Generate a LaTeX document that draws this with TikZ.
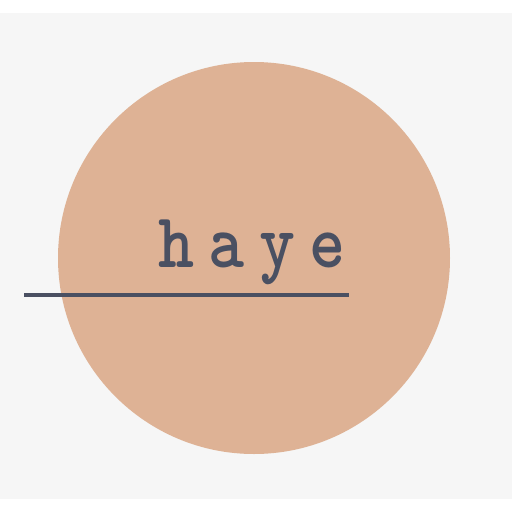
\documentclass[tikz,border=0pt]{standalone}
\usepackage{fontspec}
\usetikzlibrary{positioning}
\definecolor{skin}{HTML}{DEB295}
\definecolor{slate}{HTML}{4A5062}
\definecolor{paper}{HTML}{F6F6F6}
\begin{document}
\begin{tikzpicture}[x=1pt,y=-1pt,
  disc/.style={circle, fill=skin, minimum size=392pt, inner sep=0pt},
  word/.style={text=slate, font=\fontsize{78}{78}\ttfamily\bfseries, inner sep=0pt, anchor=base, xscale=.88}
]
  \useasboundingbox (0,0) rectangle (512,512);
  \fill[white] (0,0) rectangle (512,512);
  \fill[paper] (0,13) rectangle (512,499);

  \node[disc] (sun) at (254,258) {};
  \node[word] (name) at (252,267) {h\hspace{16pt}a\hspace{16pt}y\hspace{16pt}e};

  \coordinate (linestart) at (24,295);
  \coordinate (lineend) at (349,295);
  \draw[slate, line width=3.2pt] (linestart) -- (lineend);
\end{tikzpicture}
\end{document}
